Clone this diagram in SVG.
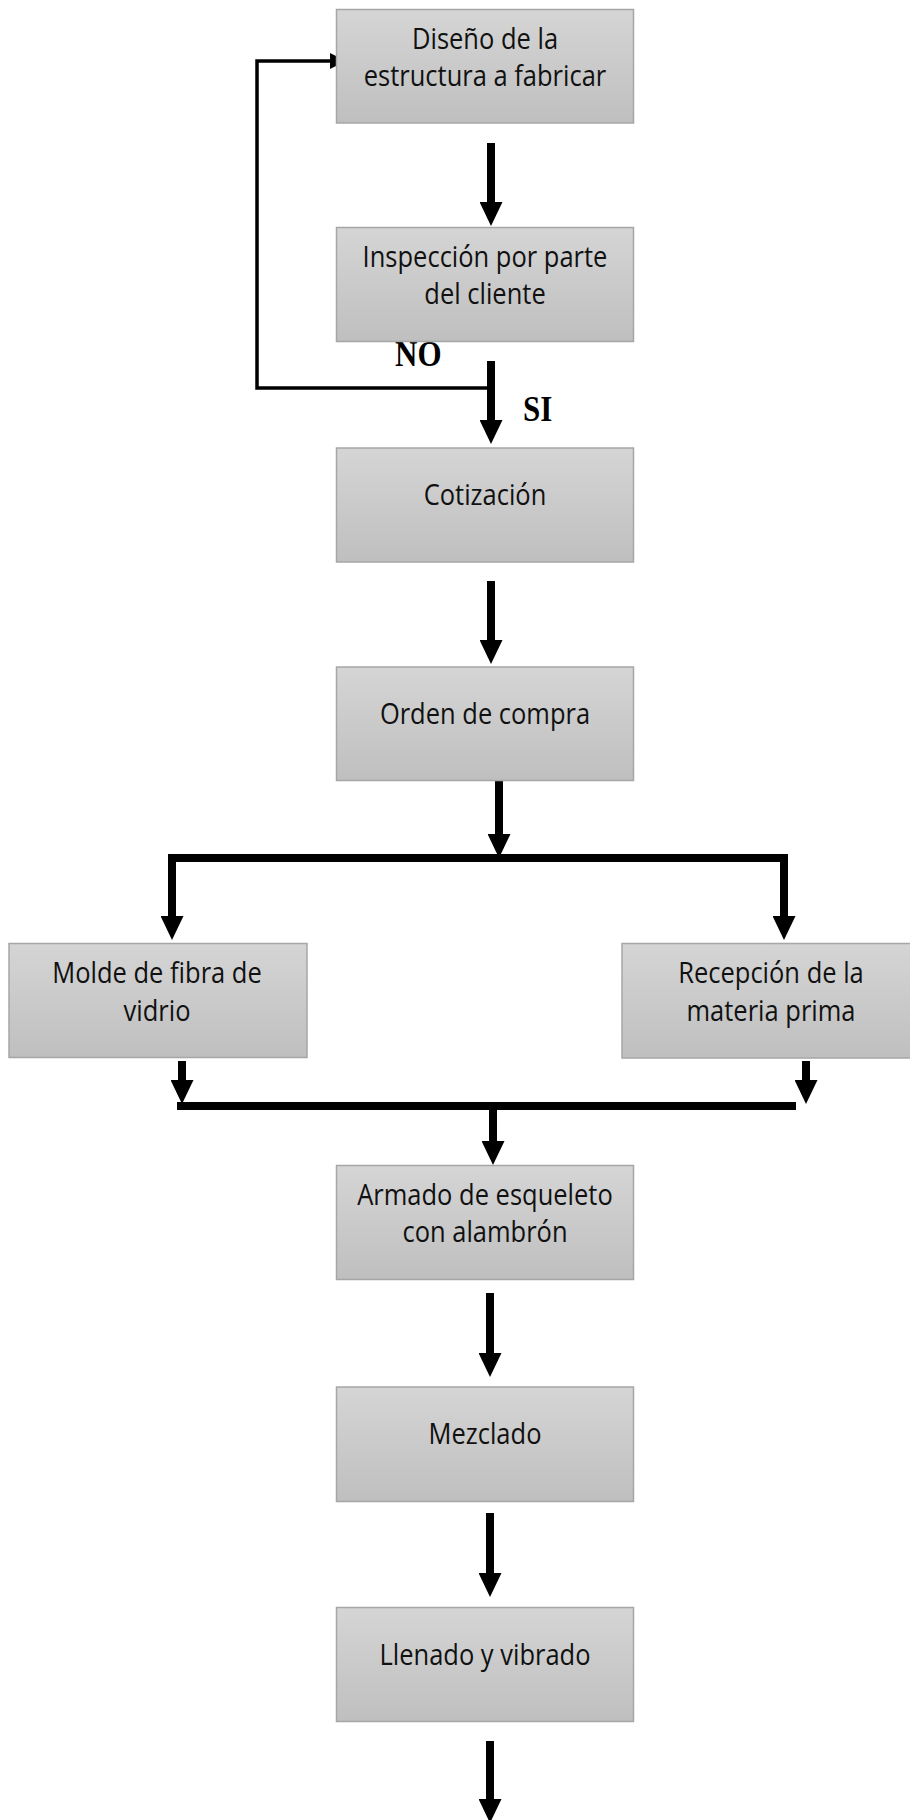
<svg xmlns="http://www.w3.org/2000/svg" width="910" height="1820" viewBox="0 0 910 1820">
<defs>
<linearGradient id="g" x1="0" y1="0" x2="0" y2="1">
<stop offset="0" stop-color="#d5d5d5"/>
<stop offset="1" stop-color="#bfbfbf"/>
</linearGradient>
<marker id="ah" viewBox="0 0 24 23" refX="0" refY="11.5" markerWidth="24" markerHeight="23" markerUnits="userSpaceOnUse" orient="auto">
<path d="M0,0 L24,11.5 L0,23 Z" fill="#000"/>
</marker>
<marker id="ahs" viewBox="0 0 16 16" refX="0" refY="8" markerWidth="16" markerHeight="16" markerUnits="userSpaceOnUse" orient="auto">
<path d="M0,0 L16,8 L0,16 Z" fill="#000"/>
</marker>
</defs>
<style>
.box{fill:url(#g);stroke:#a6a6a6;stroke-width:1.5}
.t{font-family:"Open Sans","Noto Sans",sans-serif;font-size:25.5px;fill:#111;text-anchor:middle}
.lbl{font-family:"Liberation Serif","Times New Roman",serif;font-weight:bold;font-size:31px;fill:#000}
.arr{stroke:#000;stroke-width:8;fill:none;marker-end:url(#ah)}
.bar{stroke:#000;stroke-width:8;fill:none}
.fb{stroke:#000;stroke-width:3.5;fill:none;marker-end:url(#ahs)}
</style>
<rect width="910" height="1820" fill="#fff"/>

<g id="connectors">
<line class="arr" x1="491" y1="143" x2="491" y2="202"/>
<polyline class="fb" points="491,388 257,388 257,61 330,61"/>
<line class="arr" x1="491" y1="361" x2="491" y2="420"/>
<line class="arr" x1="491" y1="581" x2="491" y2="640"/>
<line class="arr" x1="499" y1="781" x2="499" y2="834"/>
<line class="bar" x1="168" y1="858" x2="788" y2="858"/>
<line class="arr" x1="172" y1="855" x2="172" y2="916"/>
<line class="arr" x1="784" y1="855" x2="784" y2="916"/>
<line class="arr" x1="182" y1="1061" x2="182" y2="1080"/>
<line class="arr" x1="806" y1="1061" x2="806" y2="1080"/>
<line class="bar" x1="177" y1="1106" x2="796" y2="1106"/>
<line class="arr" x1="493" y1="1102" x2="493" y2="1141"/>
<line class="arr" x1="490" y1="1293" x2="490" y2="1353"/>
<line class="arr" x1="490" y1="1513" x2="490" y2="1573"/>
<line class="arr" x1="490" y1="1741" x2="490" y2="1799"/>
<text class="lbl" transform="translate(395,365.5) scale(1,1.15)">NO</text>
<text class="lbl" transform="translate(523,420.5) scale(1,1.15)">SI</text>
</g>

<g id="n1">
<rect class="box" x="336.5" y="9.5" width="297" height="113.5"/>
<text class="t" transform="translate(485,48.5) scale(1,1.15)"><tspan x="0" y="0">Diseño de la</tspan><tspan x="0" y="33">estructura a fabricar</tspan></text>
</g>
<g id="n2">
<rect class="box" x="336.5" y="227.5" width="297" height="114"/>
<text class="t" transform="translate(485,266.5) scale(1,1.15)"><tspan x="0" y="0">Inspección por parte</tspan><tspan x="0" y="33">del cliente</tspan></text>
</g>
<g id="n3">
<rect class="box" x="336.5" y="448" width="297" height="114"/>
<text class="t" transform="translate(485,505) scale(1,1.15)">Cotización</text>
</g>
<g id="n4">
<rect class="box" x="336.5" y="667" width="297" height="113.5"/>
<text class="t" transform="translate(485,723.5) scale(1,1.15)">Orden de compra</text>
</g>
<g id="n5">
<rect class="box" x="9" y="943.5" width="298" height="114"/>
<text class="t" transform="translate(157,983) scale(1,1.15)"><tspan x="0" y="0">Molde de fibra de</tspan><tspan x="0" y="33">vidrio</tspan></text>
</g>
<g id="n6">
<rect class="box" x="622" y="943.5" width="298" height="114.5"/>
<text class="t" transform="translate(771,983) scale(1,1.15)"><tspan x="0" y="0">Recepción de la</tspan><tspan x="0" y="33">materia prima</tspan></text>
</g>
<g id="n7">
<rect class="box" x="336.5" y="1165.5" width="297" height="114"/>
<text class="t" transform="translate(485,1204.5) scale(1,1.15)"><tspan x="0" y="0">Armado de esqueleto</tspan><tspan x="0" y="33">con alambrón</tspan></text>
</g>
<g id="n8">
<rect class="box" x="336.5" y="1387" width="297" height="114.5"/>
<text class="t" transform="translate(485,1444) scale(1,1.15)">Mezclado</text>
</g>
<g id="n9">
<rect class="box" x="336.5" y="1607.5" width="297" height="114"/>
<text class="t" transform="translate(485,1664.5) scale(1,1.15)">Llenado y vibrado</text>
</g>
</svg>
